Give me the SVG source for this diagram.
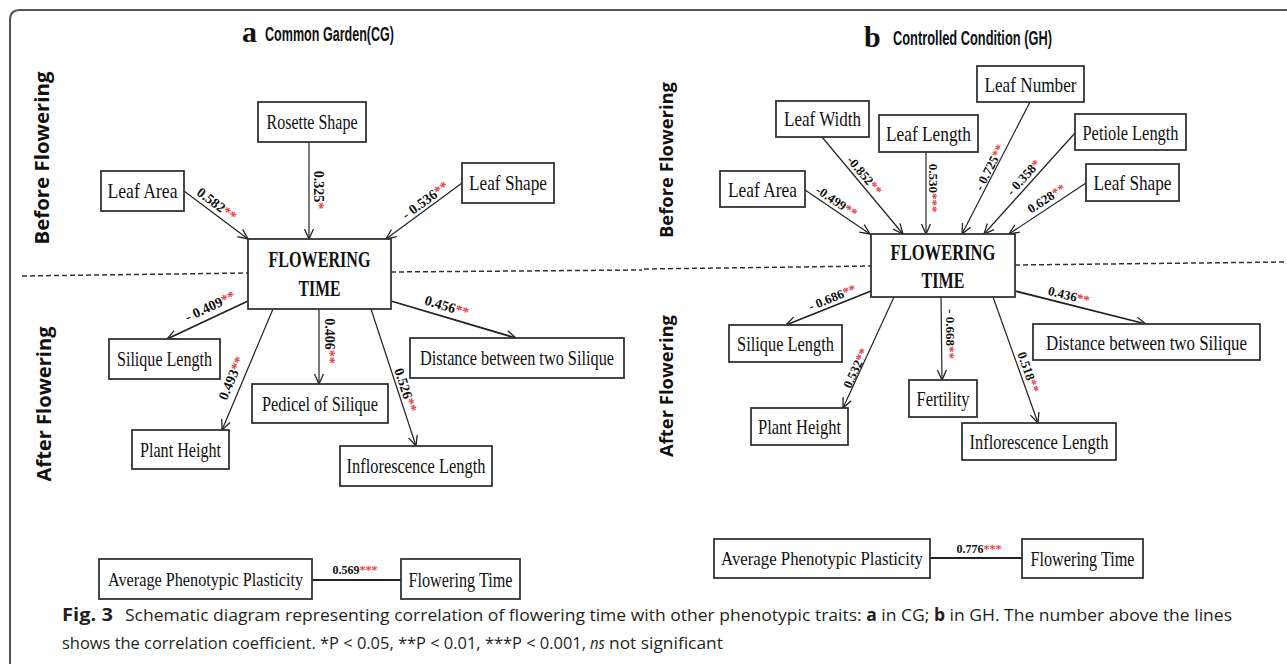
<svg xmlns="http://www.w3.org/2000/svg" width="1287" height="664" viewBox="0 0 1287 664">
<style>
.box{fill:#fff;stroke:#333;stroke-width:1.8}
.lbl{font-family:"Liberation Serif",serif;font-size:22px;fill:#111;text-anchor:middle}
.app{font-size:19px}
.ft{font-family:"Liberation Serif",serif;font-weight:bold;font-size:23px;fill:#111;text-anchor:middle}
.num{font-family:"Liberation Serif",serif;font-weight:bold;font-size:14px;fill:#111;text-anchor:middle}
.gh .num{font-size:13px}
.st{fill:#e8403f}
.sec{font-family:"Open Sans","DejaVu Sans",sans-serif;font-weight:bold;font-size:19px;fill:#111;text-anchor:middle}
.ttl{font-family:"Liberation Sans",sans-serif;font-weight:bold;font-size:20px;fill:#111}
.ab{font-family:"Liberation Serif",serif;font-weight:bold;font-size:30px;fill:#111}
.edge{stroke:#222;stroke-width:1.2;fill:none;marker-end:url(#ah)}
.thick{stroke-width:1.8}
.plain{stroke:#222;stroke-width:2;fill:none}
.dash{stroke:#333;stroke-width:1.5;stroke-dasharray:5 3;fill:none}
.cap{font-family:"Open Sans","DejaVu Sans",sans-serif;font-size:17px;fill:#231f20}
</style>
<defs>
<marker id="ah" markerUnits="userSpaceOnUse" markerWidth="12" markerHeight="12" viewBox="0 0 12 12" refX="11" refY="6" orient="auto">
<path d="M1,1.5 L11,6 L1,10.5" fill="none" stroke="#222" stroke-width="1.3"/>
</marker>
</defs>

<path d="M10,664 V20 Q10,10 20,10 H1287" fill="none" stroke="#555" stroke-width="2"/>

<g id="titles">
<text class="ab" x="242" y="42">a</text>
<text class="ttl" transform="translate(265,41) scale(0.65,1)" textLength="198.5" lengthAdjust="spacingAndGlyphs">Common Garden(CG)</text>
<text class="ab" x="864" y="47">b</text>
<text class="ttl" transform="translate(893,45) scale(0.65,1)" textLength="244.6" lengthAdjust="spacingAndGlyphs">Controlled Condition (GH)</text>
</g>

<g id="sections">
<text class="sec" transform="translate(49,158) rotate(-90)" textLength="173" lengthAdjust="spacingAndGlyphs">Before Flowering</text>
<text class="sec" transform="translate(51,404) rotate(-90)" textLength="155" lengthAdjust="spacingAndGlyphs">After Flowering</text>
<text class="sec" transform="translate(673,160) rotate(-90)" textLength="156" lengthAdjust="spacingAndGlyphs" style="font-size:18px">Before Flowering</text>
<text class="sec" transform="translate(673,386) rotate(-90)" textLength="142" lengthAdjust="spacingAndGlyphs" style="font-size:18px">After Flowering</text>
</g>

<g id="dividers">
<path class="dash" d="M22,276 L248,273"/>
<path class="dash" d="M391,272 L642,270"/>
<path class="dash" d="M644,269 L871,266"/>
<path class="dash" d="M1015,265 L1287,262"/>
</g>

<g id="connectors">
<path class="edge" d="M184,191 L248,239"/>
<path class="edge" d="M309,142 L309,239"/>
<path class="edge" d="M462,183 L386,239"/>
<path class="edge thick" d="M248,301 L167,339"/>
<path class="edge" d="M273,309 L222,430"/>
<path class="edge" d="M319,309 L319,384"/>
<path class="edge" d="M371,309 L416,446"/>
<path class="edge thick" d="M391,301 L516,338"/>
<path class="plain" d="M312,580 H401"/>

<path class="edge" d="M805,190 L870,234"/>
<path class="edge" d="M822,137 L903,234"/>
<path class="edge" d="M926,152 L926,234"/>
<path class="edge" d="M1030,102 L962,234"/>
<path class="edge" d="M1075,133 L984,234"/>
<path class="edge" d="M1086,183 L1009,234"/>
<path class="edge thick" d="M871,291 L786,325"/>
<path class="edge" d="M894,297 L843,408"/>
<path class="edge" d="M941,297 L942,380"/>
<path class="edge" d="M993,297 L1038,423"/>
<path class="edge thick" d="M1015,291 L1146,324"/>
<path class="plain" d="M930,558 H1022"/>
</g>

<g id="edge-labels">
<text class="num" transform="translate(217,204) rotate(37)" y="5">0.582<tspan class="st">**</tspan></text>
<text class="num" transform="translate(319,190) rotate(90)" y="5">0.325<tspan class="st">*</tspan></text>
<text class="num" transform="translate(425,200) rotate(-36.4)" y="5">- 0.536<tspan class="st">**</tspan></text>
<text class="num" transform="translate(210,306) rotate(-25.1)" y="5">- 0.409<tspan class="st">**</tspan></text>
<text class="num" transform="translate(231,378) rotate(-67.1)" y="5">0.493<tspan class="st">**</tspan></text>
<text class="num" transform="translate(330,341) rotate(90)" y="5">0.406<tspan class="st">**</tspan></text>
<text class="num" transform="translate(406,390) rotate(71.7)" y="5">0.526<tspan class="st">**</tspan></text>
<text class="num" transform="translate(447,306) rotate(16.9)" y="5">0.456<tspan class="st">**</tspan></text>
<text class="num" x="355" y="574" style="font-size:12px">0.569<tspan class="st">***</tspan></text>
</g>
<g id="edge-labels-gh" class="gh">
<text class="num" transform="translate(837,201) rotate(33.9)" y="5">-0.499<tspan class="st">**</tspan></text>
<text class="num" transform="translate(865,175) rotate(49.8)" y="5">-0.852<tspan class="st">**</tspan></text>
<text class="num" transform="translate(934,188) rotate(90)" y="5">0.530<tspan class="st">***</tspan></text>
<text class="num" transform="translate(989,167) rotate(-62.6)" y="5">- 0.725<tspan class="st">**</tspan></text>
<text class="num" transform="translate(1023,177) rotate(-47.7)" y="5">- 0.358<tspan class="st">*</tspan></text>
<text class="num" transform="translate(1046,198) rotate(-33)" y="5">0.628<tspan class="st">**</tspan></text>
<text class="num" transform="translate(832,297) rotate(-22.3)" y="5">- 0.686<tspan class="st">**</tspan></text>
<text class="num" transform="translate(855,368) rotate(-65.3)" y="5">0.532<tspan class="st">**</tspan></text>
<text class="num" transform="translate(951,334) rotate(90)" y="5">- 0.668<tspan class="st">**</tspan></text>
<text class="num" transform="translate(1029,372) rotate(70.3)" y="5">0.518<tspan class="st">**</tspan></text>
<text class="num" transform="translate(1069,295) rotate(13.9)" y="5">0.436<tspan class="st">**</tspan></text>
<text class="num" x="979" y="553" style="font-size:12px">0.776<tspan class="st">***</tspan></text>
</g>

<g id="cg-rosette-shape"><rect class="box" x="258" y="102" width="108" height="40"/><text class="lbl" transform="translate(312,129) scale(0.75,1)" textLength="121.3" lengthAdjust="spacingAndGlyphs">Rosette Shape</text></g>
<g id="cg-leaf-area"><rect class="box" x="101" y="171" width="83" height="40"/><text class="lbl" transform="translate(142.5,198) scale(0.75,1)" textLength="93.3" lengthAdjust="spacingAndGlyphs">Leaf Area</text></g>
<g id="cg-leaf-shape"><rect class="box" x="462" y="163" width="92" height="40"/><text class="lbl" transform="translate(508,190) scale(0.75,1)" textLength="104" lengthAdjust="spacingAndGlyphs">Leaf Shape</text></g>
<g id="cg-flowering-time"><rect class="box" x="248" y="239" width="143" height="70"/><text class="ft" transform="translate(319.5,267) scale(0.72,1)" textLength="141.7" lengthAdjust="spacingAndGlyphs">FLOWERING</text><text class="ft" transform="translate(319.5,296) scale(0.72,1)" textLength="58.3" lengthAdjust="spacingAndGlyphs">TIME</text></g>
<g id="cg-silique-length"><rect class="box" x="109" y="339" width="111" height="40"/><text class="lbl" transform="translate(164.5,366) scale(0.75,1)" textLength="126.7" lengthAdjust="spacingAndGlyphs">Silique Length</text></g>
<g id="cg-plant-height"><rect class="box" x="132" y="430" width="97" height="39"/><text class="lbl" transform="translate(180.5,457) scale(0.75,1)" textLength="108" lengthAdjust="spacingAndGlyphs">Plant Height</text></g>
<g id="cg-pedicel"><rect class="box" x="252" y="384" width="136" height="39"/><text class="lbl" transform="translate(320,411) scale(0.75,1)" textLength="154.7" lengthAdjust="spacingAndGlyphs">Pedicel of Silique</text></g>
<g id="cg-inflorescence"><rect class="box" x="340" y="446" width="152" height="40"/><text class="lbl" transform="translate(416,473) scale(0.75,1)" textLength="185.3" lengthAdjust="spacingAndGlyphs">Inflorescence Length</text></g>
<g id="cg-distance"><rect class="box" x="410" y="338" width="214" height="40"/><text class="lbl" transform="translate(517,365) scale(0.75,1)" textLength="258.7" lengthAdjust="spacingAndGlyphs">Distance between two Silique</text></g>
<g id="cg-app"><rect class="box" x="99" y="559" width="213" height="40"/><text class="lbl app" transform="translate(205.5,586) scale(0.75,1)" textLength="260" lengthAdjust="spacingAndGlyphs">Average Phenotypic Plasticity</text></g>
<g id="cg-ft-small"><rect class="box" x="401" y="559" width="119" height="40"/><text class="lbl" transform="translate(460.5,587) scale(0.75,1)" textLength="138.7" lengthAdjust="spacingAndGlyphs">Flowering Time</text></g>

<g id="gh-leaf-number"><rect class="box" x="977" y="66" width="107" height="36"/><text class="lbl" transform="translate(1030.5,92) scale(0.75,1)" textLength="122.7" lengthAdjust="spacingAndGlyphs">Leaf Number</text></g>
<g id="gh-leaf-width"><rect class="box" x="776" y="101" width="93" height="36"/><text class="lbl" transform="translate(822.5,126) scale(0.75,1)" textLength="102.7" lengthAdjust="spacingAndGlyphs">Leaf Width</text></g>
<g id="gh-leaf-length"><rect class="box" x="879" y="115" width="99" height="37"/><text class="lbl" transform="translate(928.5,141) scale(0.75,1)" textLength="113.3" lengthAdjust="spacingAndGlyphs">Leaf Length</text></g>
<g id="gh-petiole-length"><rect class="box" x="1075" y="114" width="111" height="36"/><text class="lbl" transform="translate(1130.5,140) scale(0.75,1)" textLength="128" lengthAdjust="spacingAndGlyphs">Petiole Length</text></g>
<g id="gh-leaf-area"><rect class="box" x="720" y="171" width="85" height="36"/><text class="lbl" transform="translate(762.5,197) scale(0.75,1)" textLength="92" lengthAdjust="spacingAndGlyphs">Leaf Area</text></g>
<g id="gh-leaf-shape"><rect class="box" x="1086" y="164" width="93" height="37"/><text class="lbl" transform="translate(1132.5,190) scale(0.75,1)" textLength="104" lengthAdjust="spacingAndGlyphs">Leaf Shape</text></g>
<g id="gh-flowering-time"><rect class="box" x="871" y="234" width="144" height="63"/><text class="ft" transform="translate(943,260) scale(0.72,1)" textLength="145.8" lengthAdjust="spacingAndGlyphs">FLOWERING</text><text class="ft" transform="translate(943,288) scale(0.72,1)" textLength="59.7" lengthAdjust="spacingAndGlyphs">TIME</text></g>
<g id="gh-silique-length"><rect class="box" x="729" y="325" width="113" height="37"/><text class="lbl" transform="translate(785.5,351) scale(0.75,1)" textLength="129.3" lengthAdjust="spacingAndGlyphs">Silique Length</text></g>
<g id="gh-plant-height"><rect class="box" x="751" y="408" width="97" height="37"/><text class="lbl" transform="translate(799.5,434) scale(0.75,1)" textLength="110.7" lengthAdjust="spacingAndGlyphs">Plant Height</text></g>
<g id="gh-fertility"><rect class="box" x="909" y="380" width="68" height="37"/><text class="lbl" transform="translate(943,406) scale(0.75,1)" textLength="70.7" lengthAdjust="spacingAndGlyphs">Fertility</text></g>
<g id="gh-inflorescence"><rect class="box" x="962" y="423" width="154" height="37"/><text class="lbl" transform="translate(1039,449) scale(0.75,1)" textLength="185.3" lengthAdjust="spacingAndGlyphs">Inflorescence Length</text></g>
<g id="gh-distance"><rect class="box" x="1033" y="324" width="227" height="36"/><text class="lbl" transform="translate(1146.5,350) scale(0.75,1)" textLength="268" lengthAdjust="spacingAndGlyphs">Distance between two  Silique</text></g>
<g id="gh-app"><rect class="box" x="714" y="539" width="216" height="39"/><text class="lbl app" transform="translate(822,565) scale(0.75,1)" textLength="269.3" lengthAdjust="spacingAndGlyphs">Average Phenotypic Plasticity</text></g>
<g id="gh-ft-small"><rect class="box" x="1022" y="539" width="121" height="39"/><text class="lbl" transform="translate(1082.5,566) scale(0.75,1)" textLength="138.7" lengthAdjust="spacingAndGlyphs">Flowering Time</text></g>

<g id="caption">
<text class="cap" x="62" y="621" font-weight="bold" textLength="51" lengthAdjust="spacingAndGlyphs">Fig. 3</text>
<text class="cap" x="125" y="621" textLength="1107" lengthAdjust="spacingAndGlyphs">Schematic diagram representing correlation of flowering time with other phenotypic traits: <tspan font-weight="bold">a</tspan> in CG; <tspan font-weight="bold">b</tspan> in GH. The number above the lines</text>
<text class="cap" transform="translate(62,649) scale(0.85,1)" textLength="616.5" lengthAdjust="spacingAndGlyphs">shows the correlation coefficient. *P &lt; 0.05, **P &lt; 0.01, ***P &lt; 0.001,</text>
<text class="cap" transform="translate(590,649) scale(0.85,1)" font-style="italic" textLength="17.6" lengthAdjust="spacingAndGlyphs">ns</text>
<text class="cap" transform="translate(609,649) scale(0.85,1)" textLength="134" lengthAdjust="spacingAndGlyphs">not significant</text>
</g>
</svg>
